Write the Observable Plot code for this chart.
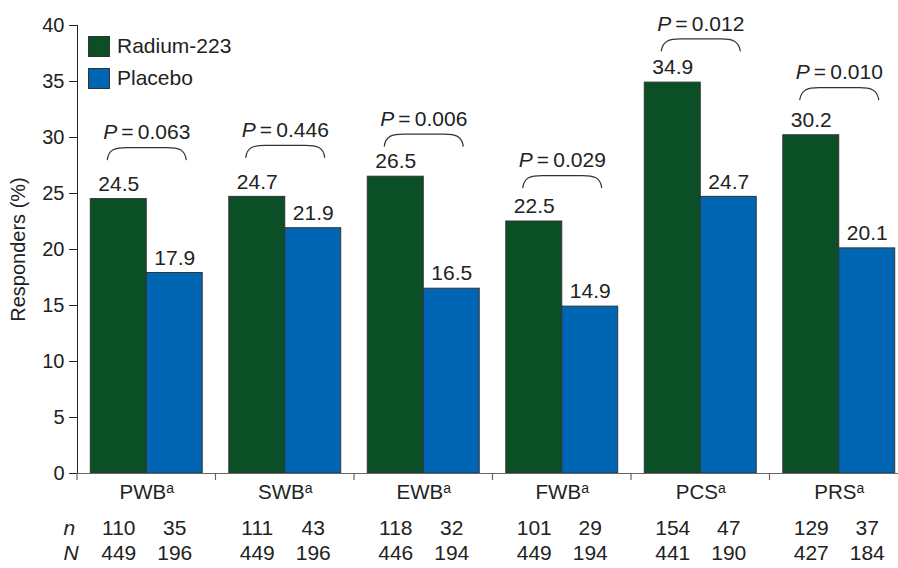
<!DOCTYPE html>
<html>
<head>
<meta charset="utf-8">
<script src="https://cdn.jsdelivr.net/npm/d3@7"></script>
<script src="https://cdn.jsdelivr.net/npm/@observablehq/plot@0.6"></script>
<style>
  html, body { margin: 0; padding: 0; background: #fff; overflow: hidden; }
  #wrap { position: relative; width: 898px; height: 568px; font-family: "Liberation Sans", Arial, sans-serif; color: #222; }
  .legend { position: absolute; left: 88px; top: 35px; }
  .legend .row { display: flex; align-items: center; height: 22px; margin-bottom: 10px; font-size: 21px; }
  .legend .sw { width: 22px; height: 21px; border: 1px solid #333; margin-right: 7px; box-sizing: border-box; }
</style>
</head>
<body>
<div id="wrap"></div>
<script>
const categories = ["PWB", "SWB", "EWB", "FWB", "PCS", "PRS"];
const series = ["Radium-223", "Placebo"];
const colors = ["#0b4f27", "#0066b3"];
const radium = [24.5, 24.7, 26.5, 22.5, 34.9, 30.2];
const placebo = [17.9, 21.9, 16.5, 14.9, 24.7, 20.1];
const pValues = ["0.063", "0.446", "0.006", "0.029", "0.012", "0.010"];
const bracketY = [29.1, 29.3, 30.3, 26.6, 38.8, 34.45];
const nRadium = [110, 111, 118, 101, 154, 129];
const nPlacebo = [35, 43, 32, 29, 47, 37];
const NRadium = [449, 449, 446, 449, 441, 427];
const NPlacebo = [196, 196, 194, 194, 190, 184];
const yTicks = [0, 5, 10, 15, 20, 25, 30, 35, 40];

const bars = categories.flatMap((c, i) => [
  {cat: c, series: series[0], value: radium[i], n: nRadium[i], N: NRadium[i]},
  {cat: c, series: series[1], value: placebo[i], n: nPlacebo[i], N: NPlacebo[i]}
]);
const brackets = categories.flatMap((c, i) => series.map(s => ({cat: c, series: s, y: bracketY[i]})));
const pLabels = categories.map((c, i) => ({cat: c, y: bracketY[i], text: "P\u2009=\u2009" + pValues[i]}));

function bracketCurve(context) {
  let pts = [];
  return {
    areaStart() {}, areaEnd() {},
    lineStart() { pts = []; },
    point(x, y) { pts.push([+x, +y]); },
    lineEnd() {
      if (pts.length < 2) return;
      const [x0, y0] = pts[0];
      const [x1] = pts[pts.length - 1];
      const e = 11.5, h = 12;
      context.moveTo(x0 - e, y0 + h);
      context.bezierCurveTo(x0 - e + 1.5, y0 + 2, x0 - 4, y0, x0 + 8, y0);
      context.lineTo(x1 - 8, y0);
      context.bezierCurveTo(x1 + 4, y0, x1 + e - 1.5, y0 + 2, x1 + e, y0 + h);
    }
  };
}

const font = "Liberation Sans, Arial, sans-serif";
const plot = Plot.plot({
  width: 898,
  height: 568,
  marginTop: 25,
  marginBottom: 95,
  marginLeft: 77,
  marginRight: 0,
  style: {fontSize: "20px", fontFamily: font, color: "#222", background: "#fff"},
  fx: {domain: categories, range: [77, 908], padding: 0, round: false, axis: null, label: null},
  x: {domain: series, paddingInner: 0, paddingOuter: 0.2375, round: false, axis: null},
  y: {domain: [0, 40], ticks: yTicks, tickSize: 8, tickPadding: 5, line: true,
      label: "Responders (%)", labelAnchor: "center", labelOffset: 67, labelArrow: "none"},
  color: {domain: series, range: colors},
  marks: [
    Plot.barY(bars, {fx: "cat", x: "series", y: "value", fill: "series", stroke: "#333", strokeWidth: 1}),
    Plot.text(bars, {fx: "cat", x: "series", y: "value", text: d => d.value.toFixed(1), dy: -15, fontSize: 21, fill: "#222"}),
    Plot.line(brackets, {fx: "cat", x: "series", y: "y", z: "cat", curve: bracketCurve, stroke: "#333", strokeWidth: 1.2}),
    Plot.text(pLabels, {fx: "cat", y: "y", text: "text", dy: -15, fontSize: 21, fill: "#222"}),
    Plot.ruleY([0], {stroke: "#666", strokeWidth: 1.2}),
    Plot.text(categories, {fx: d => d, text: d => d, frameAnchor: "bottom", dy: 25, fontSize: 20.5, fill: "#222"}),
    Plot.text(bars, {fx: "cat", x: "series", text: "n", frameAnchor: "bottom", dy: 61, fontSize: 21, fill: "#222"}),
    Plot.text(bars, {fx: "cat", x: "series", text: "N", frameAnchor: "bottom", dy: 86, fontSize: 21, fill: "#222"}),
    Plot.text([{cat: categories[0], t: "n"}], {fx: "cat", text: "t", frameAnchor: "bottom-left", dx: -14, dy: 61, fontSize: 21, fontStyle: "italic", fill: "#222"}),
    Plot.text([{cat: categories[0], t: "N"}], {fx: "cat", text: "t", frameAnchor: "bottom-left", dx: -14, dy: 86, fontSize: 21, fontStyle: "italic", fill: "#222"})
  ]
});

const svg = d3.select(plot);
svg.selectAll("text").each(function() {
  const t = d3.select(this);
  if (!t.select("tspan").empty()) return;
  const s = t.text();
  if (categories.includes(s)) {
    t.text(null);
    t.append("tspan").text(s);
    t.append("tspan").attr("font-size", "14px").attr("dy", "-0.42em").text("a");
  } else if (s.startsWith("P\u2009")) {
    t.text(null);
    t.append("tspan").attr("font-style", "italic").text("P");
    t.append("tspan").text(s.slice(1));
  } else if (/[\u2190-\u2193]/.test(s)) {
    t.text(s.replace(/\s*[\u2190-\u2193]\s*/g, ""));
  }
});
svg.selectAll('g[aria-label="y-axis tick"]').attr("stroke", "#666");
svg.selectAll('g[aria-label="y-axis line"]').attr("stroke", "#666");

// boundary ticks between groups, positioned with Plot's own scales
const fxs = plot.scale("fx"), ys = plot.scale("y");
const y0 = ys.apply(0);
const tg = svg.append("g").attr("stroke", "#666").attr("stroke-width", 1.2);
categories.forEach(c => {
  const x = fxs.apply(c);
  tg.append("line").attr("x1", x).attr("x2", x).attr("y1", y0).attr("y2", y0 + 7);
});

const wrap = document.getElementById("wrap");
wrap.appendChild(plot);
const legend = document.createElement("div");
legend.className = "legend";
legend.innerHTML = series.map((s, i) => `<div class="row"><div class="sw" style="background:${colors[i]}"></div><span>${s}</span></div>`).join("");
wrap.appendChild(legend);
</script>
</body>
</html>
